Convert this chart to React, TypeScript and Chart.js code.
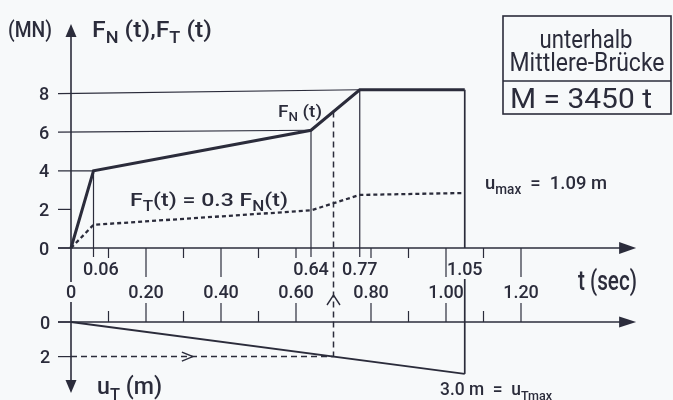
import React, { useEffect, useRef } from 'react';
import { Chart, registerables } from 'chart.js';

Chart.register(...registerables);

// ---------- data ----------
const tFN = [0, 0.06, 0.64, 0.77, 1.05];
const FN = [0, 4.0, 6.1, 8.2, 8.2];
const tFT = [0, 0.06, 0.64, 0.77, 1.05];
const FT = [0, 1.2, 1.95, 2.75, 2.85];
const tUT = [0, 1.05];
const UT = [0, 3.0];
const yTicksF = [0, 2, 4, 6, 8];
const yTicksU = [0, 2];
const upperLabelValues = [0.06, 0.64, 0.77, 1.05];
const upperLabels = ['0.06', '0.64', '0.77', '1.05'];
const upperMinorTicks = [0.1, 0.3, 0.5, 0.6, 0.8, 0.9, 1.1];
const upperMajorTicks = [0.2, 0.4, 1.0, 1.2];
const lowerLabelValues = [0, 0.2, 0.4, 0.6, 0.8, 1.0, 1.2];
const lowerLabels = ['0', '0.20', '0.40', '0.60', '0.80', '1.00', '1.20'];
const lowerMinorTicks = [0.1, 0.3, 0.5, 0.9, 1.1];
const lowerMajorTicks = [0.2, 0.4, 0.6, 0.8, 1.0, 1.2];
const tMarked = 0.70;
const uMarked = 2.0;
const tArrowMark = 0.325;
const tAxisEnd = 1.507;
const boxLines = ['unterhalb', 'Mittlere-Brücke', 'M = 3450 t'];

// ---------- layout calibration ----------
const W = 673;
const H = 400;
const ORIGIN_X = 71;
const PX_PER_S = 375;
const F_ZERO_Y = 248;
const PX_PER_MN = 19.3;
const U_ZERO_Y = 322;
const PX_PER_M = 17.3;

const INK = '#2b2c3b';
const BG = '#f7f9fa';
const FAMILY = 'Roboto';

type Seg = { t: string; sub?: boolean };

function interp(ts: number[], vs: number[], t: number) {
  for (let i = 1; i < ts.length; i++) {
    if (t <= ts[i]) {
      const f = (t - ts[i - 1]) / (ts[i] - ts[i - 1]);
      return vs[i - 1] + f * (vs[i] - vs[i - 1]);
    }
  }
  return vs[vs.length - 1];
}

function drawRich(
  ctx: CanvasRenderingContext2D,
  segs: Seg[],
  x: number,
  baseline: number,
  size: number,
  opts: { align?: 'left' | 'center' | 'right'; width?: number; weight?: number } = {}
) {
  const subSize = Math.round(size * 0.72);
  const weight = opts.weight ?? 500;
  let natural = 0;
  for (const s of segs) {
    ctx.font = `${weight} ${s.sub ? subSize : size}px ${FAMILY}`;
    natural += ctx.measureText(s.t).width;
  }
  const target = opts.width ?? natural;
  const sx = target / natural;
  let start = x;
  if (opts.align === 'center') start = x - target / 2;
  else if (opts.align === 'right') start = x - target;
  ctx.save();
  ctx.translate(start, baseline);
  ctx.scale(sx, 1);
  ctx.fillStyle = INK;
  ctx.textAlign = 'left';
  ctx.textBaseline = 'alphabetic';
  let cx = 0;
  for (const s of segs) {
    ctx.font = `${weight} ${s.sub ? subSize : size}px ${FAMILY}`;
    ctx.fillText(s.t, cx, s.sub ? size * 0.25 : 0);
    cx += ctx.measureText(s.t).width;
  }
  ctx.restore();
}

const bgPlugin = {
  id: 'bg',
  beforeDraw(chart: any) {
    const ctx = chart.ctx;
    ctx.save();
    ctx.fillStyle = BG;
    ctx.fillRect(0, 0, chart.width, chart.height);
    ctx.restore();
  },
};

const drawingPlugin = {
  id: 'drawing',
  afterDatasetsDraw(chart: any) {
    const ctx: CanvasRenderingContext2D = chart.ctx;
    const X = (v: number) => chart.scales.x.getPixelForValue(v);
    const YF = (v: number) => chart.scales.yF.getPixelForValue(v);
    const YU = (v: number) => chart.scales.yU.getPixelForValue(v);
    const ax = X(0);
    const ay = YF(0);
    const uy = YU(0);

    const line = (x1: number, y1: number, x2: number, y2: number, w = 1.3, dash: number[] = []) => {
      ctx.save();
      ctx.strokeStyle = INK;
      ctx.lineWidth = w;
      ctx.setLineDash(dash);
      ctx.beginPath();
      ctx.moveTo(x1, y1);
      ctx.lineTo(x2, y2);
      ctx.stroke();
      ctx.restore();
    };
    const tri = (p: number[][]) => {
      ctx.save();
      ctx.fillStyle = INK;
      ctx.beginPath();
      ctx.moveTo(p[0][0], p[0][1]);
      ctx.lineTo(p[1][0], p[1][1]);
      ctx.lineTo(p[2][0], p[2][1]);
      ctx.closePath();
      ctx.fill();
      ctx.restore();
    };
    const chevron = (p: number[][], w = 1.4) => {
      ctx.save();
      ctx.strokeStyle = INK;
      ctx.lineWidth = w;
      ctx.beginPath();
      ctx.moveTo(p[0][0], p[0][1]);
      ctx.lineTo(p[1][0], p[1][1]);
      ctx.lineTo(p[2][0], p[2][1]);
      ctx.stroke();
      ctx.restore();
    };

    // gridlines / connectors of the force axis
    yTicksF.forEach((lv) => {
      const idx = FN.findIndex((v, i) => i > 0 && Math.abs(v - lv) < 0.3);
      if (idx > 0) line(ax - 13, YF(lv), X(tFN[idx]), YF(FN[idx]), 1.2);
      else line(ax - 13, YF(lv), ax, YF(lv), 1.2);
    });
    yTicksU.forEach((lv) => {
      line(ax - 13, YU(lv), ax, YU(lv), 1.2);
    });

    // vertical reference lines at the corner points of F_N
    const lastT = tUT[tUT.length - 1];
    for (let i = 1; i < tFN.length; i++) {
      const x = X(tFN[i]);
      if (Math.abs(tFN[i] - lastT) < 1e-9) {
        line(x, YF(FN[i]), x, ay, 1.7);
        line(x, ay + 31, x, YU(UT[UT.length - 1]), 1.7);
      } else {
        line(x, YF(FN[i]), x, ay + 9, 1.2);
      }
    }

    // dashed read-out lines
    const xm = X(tMarked);
    line(xm, YF(interp(tFN, FN, tMarked)), xm, YU(uMarked), 1.5, [6, 4]);
    line(ax, YU(uMarked), xm, YU(uMarked), 1.5, [6, 4]);
    const xa = X(tArrowMark);
    chevron([[xa - 11, YU(uMarked) - 4.5], [xa, YU(uMarked)], [xa - 11, YU(uMarked) + 4.5]]);
    chevron([[xm - 6.5, uy - 17], [xm, uy - 27], [xm + 6.5, uy - 17]]);

    // axes
    const xEnd = X(tAxisEnd);
    line(ax - 13, ay, xEnd - 14, ay, 1.6);
    tri([[xEnd, ay], [xEnd - 17, ay - 6], [xEnd - 17, ay + 6]]);
    line(ax - 13, uy, xEnd - 14, uy, 1.6);
    tri([[xEnd, uy], [xEnd - 17, uy - 5.5], [xEnd - 17, uy + 5.5]]);
    const topTip = 24;
    const botTip = 393;
    line(ax, topTip + 10, ax, uy - 40, 1.6);
    line(ax, uy - 20, ax, botTip - 10, 1.6);
    tri([[ax, topTip], [ax - 5.5, topTip + 13], [ax + 5.5, topTip + 13]]);
    tri([[ax, botTip], [ax - 5.5, botTip - 13], [ax + 5.5, botTip - 13]]);

    // ticks
    upperMinorTicks.forEach((t) => line(X(t), ay, X(t), ay + 10, 1.2));
    upperMajorTicks.forEach((t) => line(X(t), ay, X(t), ay + 29, 1.2));
    lowerMinorTicks.forEach((t) => line(X(t), uy, X(t), uy - 11, 1.2));
    lowerMajorTicks.forEach((t) => line(X(t), uy, X(t), uy - 19, 1.2));

    // tick labels
    ctx.save();
    ctx.fillStyle = INK;
    ctx.font = `500 18px ${FAMILY}`;
    ctx.textAlign = 'center';
    ctx.textBaseline = 'alphabetic';
    yTicksF.forEach((v) => ctx.fillText(String(v), 44, YF(v) + 6.5));
    yTicksU.forEach((v) => ctx.fillText(String(v), 45, YU(v) + 6.5));
    upperLabelValues.forEach((v, i) => {
      const w = ctx.measureText(upperLabels[i]).width;
      const cx = Math.max(X(v), ax + 12 + w / 2);
      ctx.fillText(upperLabels[i], cx, ay + 27);
    });
    lowerLabelValues.forEach((v, i) => ctx.fillText(lowerLabels[i], X(v), uy - 24));
    ctx.restore();

    // titles and annotations
    drawRich(ctx, [{ t: '(MN)' }], 8, 37, 22, { width: 44 });
    drawRich(ctx, [{ t: 'F' }, { t: 'N', sub: true }, { t: ' (t),F' }, { t: 'T', sub: true }, { t: ' (t)' }], 92, 37, 22, { width: 120 });
    drawRich(ctx, [{ t: 'F' }, { t: 'N', sub: true }, { t: ' (t)' }], 278, 117, 17, { width: 44 });
    drawRich(ctx, [{ t: 'F' }, { t: 'T', sub: true }, { t: '(t) = 0.3 F' }, { t: 'N', sub: true }, { t: '(t)' }], 130, 206, 19, { width: 158 });
    drawRich(ctx, [{ t: 'u' }, { t: 'max', sub: true }, { t: '  =  1.09 m' }], 485, 189, 19, { width: 122 });
    drawRich(ctx, [{ t: 't (sec)' }], 578, 290, 27, { width: 59 });
    drawRich(ctx, [{ t: 'u' }, { t: 'T', sub: true }, { t: ' (m)' }], 97, 394, 24, { width: 65 });
    drawRich(ctx, [{ t: '3.0 m  =  u' }, { t: 'Tmax', sub: true }], 440, 395, 18, { width: 112 });

    // legend box
    ctx.save();
    ctx.strokeStyle = INK;
    ctx.lineWidth = 1.6;
    ctx.strokeRect(503, 16, 168, 98);
    ctx.beginPath();
    ctx.moveTo(503, 81);
    ctx.lineTo(671, 81);
    ctx.stroke();
    ctx.restore();
    drawRich(ctx, [{ t: boxLines[0] }], 586, 48, 25, { align: 'center', width: 93, weight: 400 });
    drawRich(ctx, [{ t: boxLines[1] }], 587, 71, 25, { align: 'center', width: 155, weight: 400 });
    drawRich(ctx, [{ t: boxLines[2] }], 581, 108, 27, { align: 'center', width: 142, weight: 400 });
  },
};

export default function App() {
  const ref = useRef<HTMLCanvasElement | null>(null);
  useEffect(() => {
    const canvas = ref.current;
    if (!canvas) return;
    const xMin = -ORIGIN_X / PX_PER_S;
    const xMax = (W - ORIGIN_X) / PX_PER_S;
    const fMax = F_ZERO_Y / PX_PER_MN;
    const fMin = -(H - F_ZERO_Y) / PX_PER_MN;
    const uMin = -U_ZERO_Y / PX_PER_M;
    const uMaxScale = (H - U_ZERO_Y) / PX_PER_M;
    const chart = new Chart(canvas, {
      type: 'line',
      data: {
        datasets: [
          {
            label: 'F_N(t)',
            data: tFN.map((t, i) => ({ x: t, y: FN[i] })),
            xAxisID: 'x',
            yAxisID: 'yF',
            borderColor: INK,
            borderWidth: 3,
            pointRadius: 0,
            fill: false,
            tension: 0,
          },
          {
            label: 'F_T(t)',
            data: tFT.map((t, i) => ({ x: t, y: FT[i] })),
            xAxisID: 'x',
            yAxisID: 'yF',
            borderColor: INK,
            borderWidth: 2.3,
            borderDash: [4, 3],
            pointRadius: 0,
            fill: false,
            tension: 0,
          },
          {
            label: 'u_T(t)',
            data: tUT.map((t, i) => ({ x: t, y: UT[i] })),
            xAxisID: 'x',
            yAxisID: 'yU',
            borderColor: INK,
            borderWidth: 1.8,
            pointRadius: 0,
            fill: false,
            tension: 0,
          },
        ],
      },
      options: {
        responsive: false,
        animation: false,
        devicePixelRatio: 1,
        events: [],
        layout: { padding: 0 },
        plugins: {
          legend: { display: false },
          tooltip: { enabled: false },
          title: { display: false },
        },
        scales: {
          x: { type: 'linear', display: false, min: xMin, max: xMax, bounds: 'data' },
          yF: { type: 'linear', display: false, min: fMin, max: fMax, bounds: 'data' },
          yU: { type: 'linear', display: false, min: uMin, max: uMaxScale, reverse: true, bounds: 'data' },
        },
      } as any,
      plugins: [bgPlugin, drawingPlugin],
    });
    return () => chart.destroy();
  }, []);
  return (
    <div style={{ position: 'fixed', left: 0, top: 0, width: W, height: H }}>
      <canvas ref={ref} width={W} height={H} style={{ display: 'block' }} />
    </div>
  );
}
